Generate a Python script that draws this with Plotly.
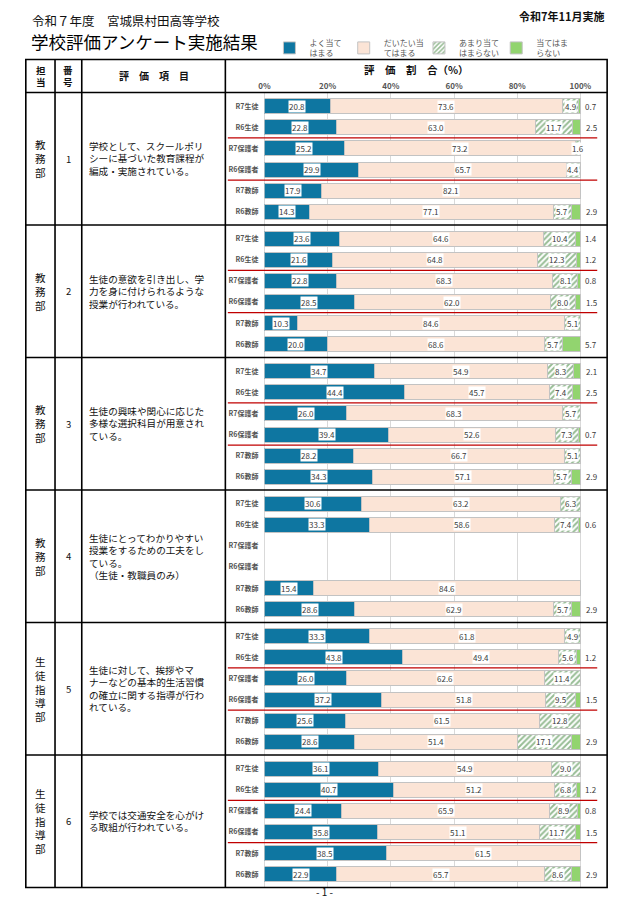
import plotly.graph_objects as go
import numpy as np

W, H = 621, 899
FONT = "Noto Sans CJK JP"

# ---------------- data ----------------
categories = ['R7生徒', 'R6生徒', 'R7保護者', 'R6保護者', 'R7教師', 'R6教師']
series_names = ['よく当て<br>はまる', 'だいたい当<br>てはまる', 'あまり当て<br>はまらない', '当てはま<br>らない']
axis_ticks = [0, 20, 40, 60, 80, 100]
axis_tick_labels = ['0%', '20%', '40%', '60%', '80%', '100%']

item_numbers = ['1', '2', '3', '4', '5', '6']
departments = ['教務部', '教務部', '教務部', '教務部', '生徒指導部', '生徒指導部']
item_texts = [
    ['学校として、スクールポリ', 'シーに基づいた教育課程が', '編成・実施されている。'],
    ['生徒の意欲を引き出し、学', '力を身に付けられるような', '授業が行われている。'],
    ['生徒の興味や関心に応じた', '多様な選択科目が用意され', 'ている。'],
    ['生徒にとってわかりやすい', '授業をするための工夫をし', 'ている。', '（生徒・教職員のみ）'],
    ['生徒に対して、挨拶やマ', 'ナーなどの基本的生活習慣', 'の確立に関する指導が行わ', 'れている。'],
    ['学校では交通安全を心がけ', 'る取組が行われている。'],
]

very_true = [
    [20.8, 22.8, 25.2, 29.9, 17.9, 14.3],
    [23.6, 21.6, 22.8, 28.5, 10.3, 20.0],
    [34.7, 44.4, 26.0, 39.4, 28.2, 34.3],
    [30.6, 33.3, None, None, 15.4, 28.6],
    [33.3, 43.8, 26.0, 37.2, 25.6, 28.6],
    [36.1, 40.7, 24.4, 35.8, 38.5, 22.9],
]
mostly_true = [
    [73.6, 63.0, 73.2, 65.7, 82.1, 77.1],
    [64.6, 64.8, 68.3, 62.0, 84.6, 68.6],
    [54.9, 45.7, 68.3, 52.6, 66.7, 57.1],
    [63.2, 58.6, None, None, 84.6, 62.9],
    [61.8, 49.4, 62.6, 51.8, 61.5, 51.4],
    [54.9, 51.2, 65.9, 51.1, 61.5, 65.7],
]
rarely_true = [
    [4.9, 11.7, 1.6, 4.4, 0, 5.7],
    [10.4, 12.3, 8.1, 8.0, 5.1, 5.7],
    [8.3, 7.4, 5.7, 7.3, 5.1, 5.7],
    [6.3, 7.4, None, None, 0, 5.7],
    [4.9, 5.6, 11.4, 9.5, 12.8, 17.1],
    [9.0, 6.8, 8.9, 11.7, 0, 8.6],
]
not_true = [
    [0.7, 2.5, 0, 0, 0, 2.9],
    [1.4, 1.2, 0.8, 1.5, 0, 5.7],
    [2.1, 2.5, 0, 0.7, 0, 2.9],
    [0, 0.6, None, None, 0, 2.9],
    [0, 1.2, 0, 1.5, 0, 2.9],
    [0, 1.2, 0.8, 1.5, 0, 2.9],
]

# ---------------- style / geometry (pixels) ----------------
BLUE = '#0e76a1'
PEACH = '#fbe4d6'
HATCH = '#2f7a2a'
GREEN = '#92d46f'
OUTLINE = '#c3c3c3'
GRID = '#d9d9d9'
LABEL = '#3a3a3a'

COLS = [20, 49.5, 76.5, 221.5, 607]
HEAD_TOP = 59.5
BLOCK_TOP = 92.5
BLOCK_H = 132.5
ROW_H = 21.08
TOP_OFF = 13.8
PLOT_X0 = 261
PX_PER_PCT = 3.19
X_MAX = 107          # axis extends a little past 100% to hold the outside labels
OUT_LABEL_X = 103.5
LEGEND_X = [266, 341, 417, 495]


def px(x):
    return x / W


def py(y):
    return 1 - y / H


fig = go.Figure()
annotations = []
shapes = []


def ann(x, y, text, size, color='#111111', xanchor='center', weight='normal', **kw):
    annotations.append(dict(x=px(x), y=py(y), xref='paper', yref='paper', text=text,
                            showarrow=False, xanchor=xanchor, yanchor='middle', borderpad=0,
                            font=dict(family=FONT, size=size, color=color, weight=weight), **kw))


series = [very_true, mostly_true, rarely_true, not_true]
n_blocks = len(very_true)
legend_ids = ['legend', 'legend2', 'legend3', 'legend4']

layout_axes = {}
for k in range(n_blocks):
    xa = 'x' if k == 0 else f'x{k+1}'
    ya = 'y' if k == 0 else f'y{k+1}'
    top = BLOCK_TOP + k * BLOCK_H
    bot = top + BLOCK_H
    for s in range(4):
        vals = series[s][k]
        marker = dict(line=dict(color=OUTLINE, width=1))
        if s == 0:
            marker['color'] = BLUE
        elif s == 1:
            marker['color'] = PEACH
        elif s == 2:
            marker['color'] = 'white'
            marker['pattern'] = dict(shape='/', fgcolor=HATCH, bgcolor='white', size=4, solidity=0.5)
        else:
            marker['color'] = GREEN
        fig.add_trace(go.Bar(
            y=categories, x=vals, orientation='h', name=series_names[s],
            xaxis=xa, yaxis=ya, marker=marker, width=0.71,
            showlegend=(k == 0), legendgroup=str(s), legend=legend_ids[s], hoverinfo='skip'))

    # value labels
    arr = np.array([[np.nan if v is None else v for v in ser[k]] for ser in series], dtype=float)
    cum = np.cumsum(np.nan_to_num(arr), axis=0)
    for s in range(4):
        for r, cat in enumerate(categories):
            v = arr[s, r]
            if np.isnan(v) or v <= 0:
                continue
            if s < 3:
                xpos = cum[s, r] - v / 2
                annotations.append(dict(x=xpos, y=cat, xref=xa, yref=ya, text=f'{v:.1f}',
                                        showarrow=False, bgcolor='white', borderpad=0,
                                        font=dict(family=FONT, size=8, color=LABEL)))
            else:
                annotations.append(dict(x=OUT_LABEL_X, y=cat, xref=xa, yref=ya, text=f'{v:.1f}',
                                        showarrow=False, borderpad=0,
                                        font=dict(family=FONT, size=8, color=LABEL)))

    # red separators between groups (only where parent data exists)
    if very_true[k][2] is not None:
        for yy in (1.5, 3.5):
            shapes.append(dict(type='line', xref='paper', yref=ya, x0=px(224), x1=px(597),
                               y0=yy, y1=yy, line=dict(color='#c00000', width=1.3)))

    layout_axes['xaxis' if k == 0 else f'xaxis{k+1}'] = dict(
        domain=[px(PLOT_X0), px(PLOT_X0 + X_MAX * PX_PER_PCT)], range=[0, X_MAX],
        tickvals=axis_ticks, ticktext=axis_tick_labels,
        showgrid=True, gridcolor=GRID, gridwidth=1, zeroline=True, zerolinecolor=GRID,
        zerolinewidth=1, anchor=ya, side='top' if k == 0 else 'bottom',
        showticklabels=(k == 0), ticks='', ticklabelstandoff=1,
        tickfont=dict(family=FONT, size=8, color='#555555', weight='bold'), fixedrange=True)
    rows_visible = BLOCK_H / ROW_H
    r0 = -TOP_OFF / ROW_H
    layout_axes['yaxis' if k == 0 else f'yaxis{k+1}'] = dict(
        domain=[py(bot), py(top)], type='category', categoryorder='array',
        categoryarray=categories, range=[r0 + rows_visible, r0], anchor=xa,
        showgrid=False, zeroline=False, ticks='', ticklabelstandoff=5,
        tickfont=dict(family=FONT, size=7, color='#555555', weight='bold'), fixedrange=True)

    # left columns text
    cy = (top + bot) / 2
    ann(35, cy, '<br>'.join(departments[k]), 10.6)
    ann(63, cy, item_numbers[k], 9.5)
    ann(82.5, cy, '<br>'.join(item_texts[k]), 9.6, xanchor='left', align='left')

# ---------------- table lines ----------------
LW = 1.6
bottom = BLOCK_TOP + n_blocks * BLOCK_H
shapes.append(dict(type='rect', xref='paper', yref='paper', x0=px(COLS[0]), x1=px(COLS[-1]),
                   y0=py(HEAD_TOP), y1=py(bottom), line=dict(color='black', width=LW)))
for cx in COLS[1:-1]:
    shapes.append(dict(type='line', xref='paper', yref='paper', x0=px(cx), x1=px(cx),
                       y0=py(HEAD_TOP), y1=py(bottom), line=dict(color='black', width=LW)))
for k in range(n_blocks):
    yy = BLOCK_TOP + k * BLOCK_H
    shapes.append(dict(type='line', xref='paper', yref='paper', x0=px(COLS[0]), x1=px(COLS[-1]),
                       y0=py(yy), y1=py(yy), line=dict(color='black', width=LW)))

# ---------------- header texts ----------------
ann(25, 20.5, '令和７年度　宮城県村田高等学校', 12.5, xanchor='left')
ann(24, 41.5, '学校評価アンケート実施結果', 17.5, xanchor='left', color='#000000')
ann(605, 16, '令和7年11月実施', 11, xanchor='right', weight='bold')
ann(35, 76, '担<br>当', 9.5, weight='bold')
ann(63, 76, '番<br>号', 9.5, weight='bold')
ann(149, 75, '評　価　項　目', 10, weight='bold')
ann(415, 70, '評　価　割　合（%）', 10.5, weight='bold')
ann(322, 891, '- 1 -', 10)

legends = {}
for i, lid in enumerate(legend_ids):
    legends[lid] = dict(x=px(LEGEND_X[i]), y=py(31), xanchor='left', yanchor='top',
                        font=dict(family=FONT, size=8, color='#555555'), itemwidth=30,
                        bgcolor='rgba(0,0,0,0)', itemclick=False, itemdoubleclick=False,
                        valign='middle')

fig.update_layout(
    width=W, height=H, margin=dict(l=0, r=0, t=0, b=0),
    paper_bgcolor='white', plot_bgcolor='white', barmode='stack',
    font=dict(family=FONT), showlegend=True,
    annotations=annotations, shapes=shapes,
    **legends, **layout_axes)

fig.write_html("out.html", config={'displayModeBar': False},
               post_script="document.body.style.margin='0';document.body.style.overflow='hidden';")
